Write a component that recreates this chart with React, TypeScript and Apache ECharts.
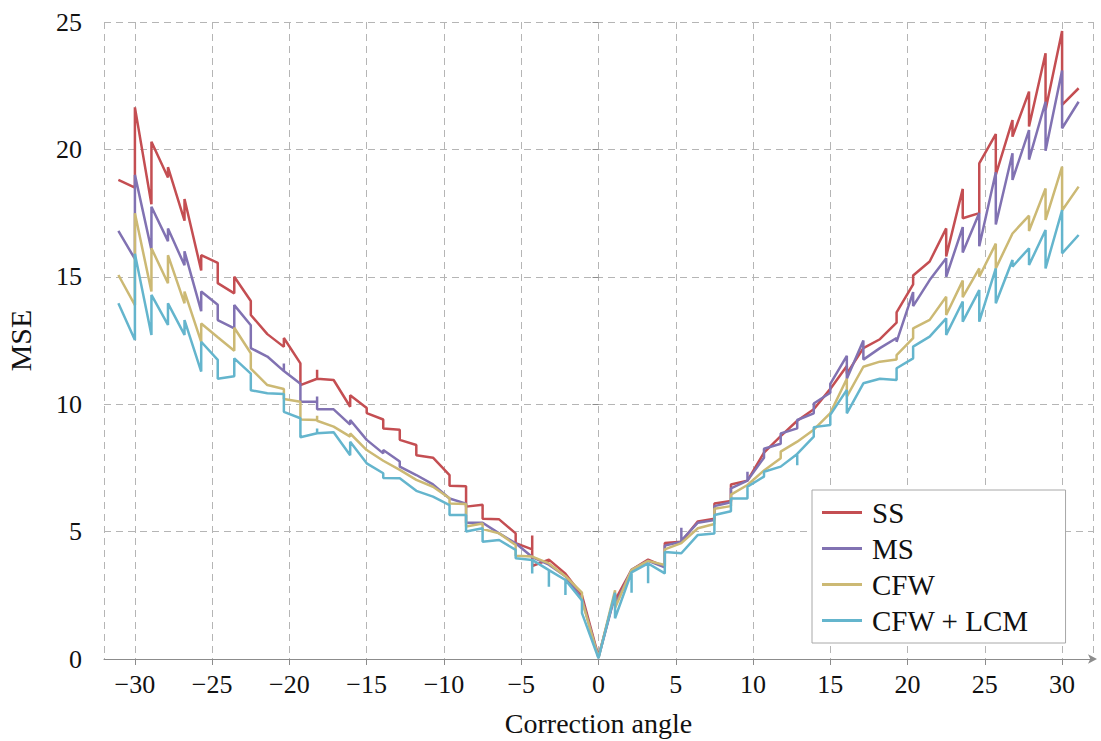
import React, { useEffect, useRef } from "react";
import * as echarts from "echarts";

// Correction angles (degrees) at which MSE was measured
const ANGLES = [
  -31.07, -30.0, -28.93, -27.86, -26.79, -25.71, -24.64, -23.57, -22.5, -21.43,
  -20.36, -19.29, -18.21, -17.14, -16.07, -15.0, -13.93, -12.86, -11.79, -10.71,
  -9.64, -8.57, -7.5, -6.43, -5.36, -4.29, -3.21, -2.14, -1.07, 0,
  1.07, 2.14, 3.21, 4.29, 5.36, 6.43, 7.5, 8.57, 9.64, 10.71,
  11.79, 12.86, 13.93, 15.0, 16.07, 17.14, 18.21, 19.29, 20.36, 21.43,
  22.5, 23.57, 24.64, 25.71, 26.79, 27.86, 28.93, 30.0, 31.07,
];

// Each entry: one value, or several values measured at the same angle (vertical jumps)
const SS: (number | number[])[] = [
  18.8, [18.5, 21.65], [17.85, 20.3], [18.9, 19.3], [17.2, 18.05], [15.25, 15.85], [15.55, 14.75], [14.35, 15.0], [14.05, 13.5], 12.75,
  [12.25, 12.6], [11.6, 10.75], [11.0, 11.35, 11.0], 10.95, [9.9, 10.35], [9.85, 9.65], [9.4, 9.05], [9.0, 8.6], [8.4, 8.0], 7.9,
  [7.22, 6.8], [6.78, 5.98], [6.05, 5.5], 5.48, [4.93, 4.55], [4.3, 4.85, 3.65], 3.9, 3.35, 2.5, 0.1,
  [2.55, 2.3], 3.5, 3.9, [3.62, 4.55], 4.6, 5.4, [5.5, 6.1], [6.2, 6.85], 7.0, 8.1,
  8.75, 9.35, 9.8, 10.6, [11.5, 11.2], 12.2, 12.55, [13.2, 13.6], [14.7, 15.05], 15.6,
  [16.9, 15.8], [18.45, 17.3], [17.5, 19.45], [20.6, 19.0], [21.15, 20.5], [22.27, 20.9], [23.77, 21.55], [24.65, 21.75], 22.4,
];

const MS: (number | number[])[] = [
  16.8, [15.7, 19.0], [16.05, 17.75], [16.4, 16.9], [15.45, 16.0], [13.65, 14.42], [13.9, 13.3], [12.98, 13.89], [13.1, 12.2], 11.87,
  [11.3, 11.6, 11.3], [10.8, 10.1], [10.1, 10.3, 9.8], 9.8, [9.2, 9.38], 8.6, [8.07, 8.2], [7.75, 7.55], 7.22, 6.85,
  6.3, [6.1, 5.35], 5.35, 4.93, 4.54, 4.0, 3.7, 3.25, 2.35, 0.05,
  [2.5, 2.1], 3.5, 3.85, [3.6, 4.45], [4.6, 5.15, 4.65], 5.35, [5.45, 6.0], [6.15, 6.7], [7.0, 7.35, 7.0], [7.9, 8.25],
  [8.45, 8.85], [9.05, 9.38], [9.64, 10.03], [10.45, 10.8], [11.9, 11.0], [12.5, 11.75], 12.2, [12.6, 12.45], [14.4, 13.85], 14.87,
  [15.73, 15.0], [16.95, 15.95], [17.5, 16.2], [19.1, 17.05], [19.85, 18.8], [20.76, 19.6], [21.87, 19.95], [23.1, 20.83], 21.87,
];

const CFW: (number | number[])[] = [
  15.07, [13.89, 17.49], [14.42, 16.12], [14.75, 15.85], [13.96, 14.42], [12.45, 13.17], 12.63, [12.1, 13.0], [12.0, 11.4], 10.75,
  [10.6, 10.2], [10.1, 9.4], [9.38, 9.55, 9.35], 9.12, [8.73, 8.85], 8.2, 7.78, 7.42, 7.03, 6.76,
  [6.31, 6.1], [6.08, 5.2], [5.32, 5.1], 4.93, [4.47, 4.05], 4.02, 3.75, 3.25, [2.6, 2.3], 0.05,
  [2.7, 2.0], 3.5, 3.85, [3.69, 4.3], 4.55, 5.13, [5.3, 5.9], [6.0, 6.45], 6.83, 7.4,
  [7.88, 8.14], 8.53, 9.0, 9.65, [11.0, 10.3], 11.47, 11.67, [11.75, 11.93], [12.59, 12.98], 13.31,
  [14.22, 13.5], [14.85, 14.2], [15.33, 15.0], [16.3, 15.33], 16.7, [17.4, 16.8], [18.47, 17.23], [19.32, 17.6], 18.54,
];

const CFW_LCM: (number | number[])[] = [
  13.96, [12.52, 15.9], [12.72, 14.29], [13.11, 13.96], [12.72, 13.3], [11.28, 12.45], [11.74, 11.0], [11.1, 11.8], [11.2, 10.55], 10.43,
  [10.4, 9.7], [9.45, 8.7], [8.86, 9.05, 8.86], 8.9, [8.0, 8.53], 7.68, [7.29, 7.1], 7.09, 6.6, 6.37,
  [6.04, 5.65], [5.65, 5.0], [5.13, 4.6], 4.67, [4.28, 3.95], [3.89, 3.36, 3.89], [3.49, 2.84, 3.49], [3.1, 2.51, 3.1], [2.3, 1.8], 0.03,
  [2.6, 1.6], [3.4, 2.6, 3.4], [3.75, 2.97, 3.75], [3.36, 4.2], 4.15, 4.87, [4.93, 5.65], [5.8, 6.3], [6.3, 6.76], [7.16, 7.35],
  7.55, [8.05, 7.6, 8.05], [8.73, 9.1], [9.18, 9.58], [10.56, 9.64], 10.82, 11.0, [10.95, 11.41], [11.8, 12.26], 12.65,
  [13.37, 12.72], [14.03, 13.24], [14.48, 13.24], [15.33, 13.96], [15.66, 15.4], [16.12, 15.46], [16.84, 15.33], [17.62, 15.92], 16.64,
];

const SERIES_NAMES = ["SS", "MS", "CFW", "CFW + LCM"];
const SERIES_VALUES = [SS, MS, CFW, CFW_LCM];
const COLORS = ["#c44e52", "#8172b2", "#ccb974", "#64b5cd"];

const FONT = "'Liberation Serif', 'DejaVu Serif', serif";

function toPoints(vals: (number | number[])[]): number[][] {
  const pts: number[][] = [];
  vals.forEach((v, i) => {
    const list = Array.isArray(v) ? v : [v];
    list.forEach((y) => pts.push([ANGLES[i], y]));
  });
  return pts;
}

const fmt = (v: number) => (v < 0 ? "\u2212" + Math.abs(v) : String(v));

export default function App() {
  const ref = useRef<HTMLDivElement>(null);
  useEffect(() => {
    if (!ref.current) return;
    const chart = echarts.init(ref.current, null, { renderer: "svg" });
    const gridLine = { show: true, lineStyle: { color: "#b5b5b5", width: 1, type: [7, 5] as any } };
    chart.setOption({
      animation: false,
      backgroundColor: "#fff",
      grid: { left: 104, top: 22, width: 989, height: 637, containLabel: false, outerBoundsMode: "none" },
      xAxis: {
        type: "value",
        min: -32,
        max: 32,
        splitNumber: 13,
        name: "Correction angle",
        nameLocation: "middle",
        nameGap: 50,
        nameTextStyle: { fontFamily: FONT, fontSize: 28, color: "#111" },
        axisLine: {
          show: true,
          lineStyle: { color: "#8c8c8c", width: 1 },
          symbol: ["none", "arrow"],
          symbolSize: [7, 9],
          symbolOffset: [0, 4],
        },
        axisTick: { show: true, length: 6, lineStyle: { color: "#8c8c8c" } },
        axisLabel: {
          show: true,
          margin: 12,
          showMinLabel: false,
          showMaxLabel: false,
          formatter: fmt,
          fontFamily: FONT,
          fontSize: 26,
          color: "#111",
        },
        splitLine: gridLine,
      },
      yAxis: {
        type: "value",
        min: 0,
        max: 25,
        interval: 5,
        name: "MSE",
        nameLocation: "middle",
        nameGap: 69,
        nameTextStyle: { fontFamily: FONT, fontSize: 30, color: "#111" },
        axisLine: { show: false },
        axisTick: { show: true, length: 6, lineStyle: { color: "#8c8c8c" } },
        axisLabel: { margin: 22, fontFamily: FONT, fontSize: 26, color: "#111", formatter: fmt },
        splitLine: gridLine,
      },
      legend: {
        orient: "vertical",
        left: 812,
        top: 490,
        padding: [8, 37, 8, 10],
        itemGap: 7,
        itemWidth: 40,
        itemHeight: 3,
        icon: "rect",
        borderColor: "#a8a8a8",
        borderWidth: 1,
        borderRadius: 0,
        backgroundColor: "#fff",
        textStyle: { fontFamily: FONT, fontSize: 29, color: "#111", padding: [0, 0, 0, 5] },
        data: SERIES_NAMES,
      },
      series: SERIES_NAMES.map((name, i) => ({
        name,
        type: "line",
        data: toPoints(SERIES_VALUES[i]),
        symbol: "none",
        showSymbol: false,
        color: COLORS[i],
        lineStyle: { color: COLORS[i], width: 2.5 },
        emphasis: { disabled: true },
      })),
    });
    return () => chart.dispose();
  }, []);
  return (
    <div
      ref={ref}
      style={{ position: "absolute", left: 0, top: 0, width: 1101, height: 741, background: "#fff" }}
    />
  );
}
